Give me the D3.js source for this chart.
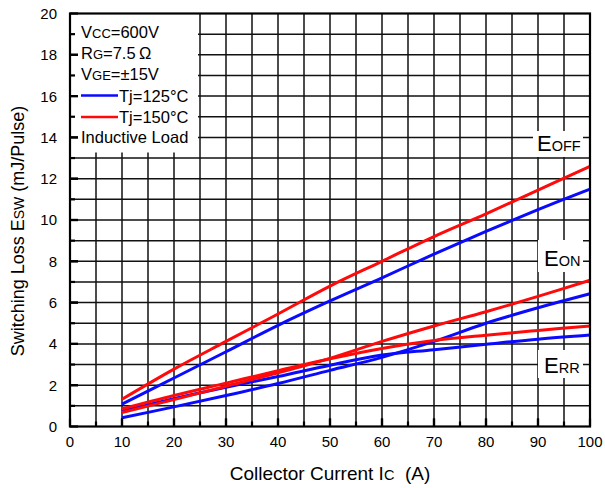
<!DOCTYPE html>
<html>
<head>
<meta charset="utf-8">
<script src="https://cdn.jsdelivr.net/npm/d3@7"></script>
<style>
  body { margin: 0; background: #fff; }
  text { font-family: "Liberation Sans", Arial, sans-serif; fill: #000; }
</style>
</head>
<body>
<div id="container"></div>
<script>
/* CONSTANTS AND GLOBALS */
const width = 605;
const height = 488;
const margin = { top: 13.5, right: 15, bottom: 61.5, left: 70 };

/* DATA */
const current = [10, 20, 30, 40, 50, 60, 70, 80, 90, 100];
const eoff125 = [1.08, 2.35, 3.62, 4.9, 6.08, 7.2, 8.35, 9.45, 10.5, 11.5];
const eoff150 = [1.32, 2.78, 4.12, 5.45, 6.8, 8.0, 9.2, 10.3, 11.45, 12.6];
const eon125 = [0.42, 0.95, 1.5, 2.08, 2.72, 3.35, 4.12, 5.0, 5.75, 6.43];
const eon150 = [0.68, 1.3, 1.95, 2.6, 3.3, 4.12, 4.87, 5.56, 6.3, 7.08];
const err125 = [0.75, 1.35, 1.9, 2.42, 2.97, 3.46, 3.72, 3.98, 4.23, 4.43];
const err150 = [0.85, 1.5, 2.1, 2.7, 3.28, 3.78, 4.16, 4.42, 4.65, 4.87];

const xTickLabels = [0, 10, 20, 30, 40, 50, 60, 70, 80, 90, 100];
const yTickLabels = [0, 2, 4, 6, 8, 10, 12, 14, 16, 18, 20];
const xGrid = [5, 10, 15, 20, 25, 30, 35, 40, 45, 50, 55, 60, 65, 70, 75, 80, 85, 90, 95];
const yGrid = [1, 2, 3, 4, 5, 6, 7, 8, 9, 10, 11, 12, 13, 14, 15, 16, 17, 18, 19];

const blue = "#0a0aff";
const red = "#ff0a0a";

const series = [
  { name: "eoff125", values: eoff125, color: blue },
  { name: "eoff150", values: eoff150, color: red },
  { name: "err125", values: err125, color: blue },
  { name: "eon125", values: eon125, color: blue },
  { name: "err150", values: err150, color: red },
  { name: "eon150", values: eon150, color: red }
];

/* SCALES */
const xScale = d3.scaleLinear()
  .domain([0, 100])
  .range([margin.left, width - margin.right]);

const yScale = d3.scaleLinear()
  .domain([0, 20])
  .range([height - margin.bottom, margin.top]);

/* SVG */
const svg = d3.select("#container")
  .append("svg")
  .attr("width", width)
  .attr("height", height)
  .style("background-color", "#fff");

// grid
svg.append("g")
  .selectAll("line")
  .data(xGrid)
  .join("line")
  .attr("x1", d => xScale(d)).attr("x2", d => xScale(d))
  .attr("y1", yScale(0)).attr("y2", yScale(20))
  .attr("stroke", "#111").attr("stroke-width", 1.5);

svg.append("g")
  .selectAll("line")
  .data(yGrid)
  .join("line")
  .attr("x1", xScale(0)).attr("x2", xScale(100))
  .attr("y1", d => yScale(d)).attr("y2", d => yScale(d))
  .attr("stroke", "#111").attr("stroke-width", 1.5);

// curves
const line = d3.line()
  .x((d, i) => xScale(current[i]))
  .y(d => yScale(d))
  .curve(d3.curveCatmullRom.alpha(0.5));

svg.append("g")
  .selectAll("path")
  .data(series)
  .join("path")
  .attr("d", d => line(d.values))
  .attr("fill", "none")
  .attr("stroke", d => d.color)
  .attr("stroke-width", 3);

// white boxes behind curve labels
const labelBoxes = [
  { x: 533, y: 131, w: 50, h: 26 },
  { x: 538, y: 240, w: 45, h: 32 },
  { x: 538, y: 350, w: 45, h: 28 }
];
svg.append("g")
  .selectAll("rect")
  .data(labelBoxes)
  .join("rect")
  .attr("x", d => d.x).attr("y", d => d.y)
  .attr("width", d => d.w).attr("height", d => d.h)
  .attr("fill", "#fff");

// legend box
svg.append("rect")
  .attr("x", xScale(0)).attr("y", yScale(20))
  .attr("width", 128).attr("height", 139)
  .attr("fill", "#fff");

// frame
svg.append("rect")
  .attr("x", xScale(0)).attr("y", yScale(20))
  .attr("width", xScale(100) - xScale(0))
  .attr("height", yScale(0) - yScale(20))
  .attr("fill", "none")
  .attr("stroke", "#000")
  .attr("stroke-width", 2.2);

// inward ticks
const ticks = svg.append("g").attr("stroke", "#000").attr("stroke-width", 2.2);
ticks.selectAll("line.yt")
  .data(yGrid.concat(yTickLabels))
  .join("line")
  .attr("class", "yt")
  .attr("x1", xScale(0))
  .attr("x2", d => xScale(0) + (d % 2 === 0 ? 8 : 5))
  .attr("y1", d => yScale(d)).attr("y2", d => yScale(d));
ticks.selectAll("line.xt")
  .data(xGrid.concat(xTickLabels))
  .join("line")
  .attr("class", "xt")
  .attr("y1", yScale(0))
  .attr("y2", d => yScale(0) - (d % 10 === 0 ? 8 : 5))
  .attr("x1", d => xScale(d)).attr("x2", d => xScale(d));

// tick labels
svg.append("g")
  .selectAll("text")
  .data(yTickLabels)
  .join("text")
  .attr("x", 57)
  .attr("y", d => yScale(d))
  .attr("dy", "0.36em")
  .attr("text-anchor", "end")
  .style("font-size", "15px")
  .text(d => d);

svg.append("g")
  .selectAll("text")
  .data(xTickLabels)
  .join("text")
  .attr("x", d => xScale(d))
  .attr("y", 447)
  .attr("text-anchor", "middle")
  .style("font-size", "15px")
  .text(d => d);

// helper for text with small-letter parts
function richText(x, y, parts, anchor, big, small) {
  const t = svg.append("text")
    .attr("x", x).attr("y", y)
    .attr("text-anchor", anchor || "start")
    .style("font-size", big + "px");
  parts.forEach(p => {
    t.append("tspan")
      .style("font-size", (p[1] ? small : big) + "px")
      .text(p[0]);
  });
  return t;
}

// axis titles
richText(330, 480, [["Collector Current I", 0], ["C", 1], ["  (A)", 0]], "middle", 19, 14.5)
  .attr("xml:space", "preserve");

richText(0, 0, [["Switching Loss E", 0], ["SW", 1], [" (mJ/Pulse)", 0]], "middle", 18, 14)
  .attr("transform", `translate(24, ${yScale(10) + 11}) rotate(-90)`);

// legend
const lx = 81;
const fBig = 16.5, fSmall = 13;
richText(lx, 37.5, [["V", 0], ["CC", 1], ["=600V", 0]], "start", fBig, fSmall);
richText(lx, 58.5, [["R", 0], ["G", 1], ["=7.5\u2009\u03A9", 0]], "start", fBig, fSmall);
richText(lx, 79.5, [["V", 0], ["GE", 1], ["=\u00B115V", 0]], "start", fBig, fSmall);
svg.append("line").attr("x1", lx).attr("x2", 118).attr("y1", 95.5).attr("y2", 95.5)
  .attr("stroke", blue).attr("stroke-width", 2.5);
richText(119, 101.5, [["Tj=125\u00B0C", 0]], "start", fBig, fSmall);
svg.append("line").attr("x1", lx).attr("x2", 118).attr("y1", 117).attr("y2", 117)
  .attr("stroke", red).attr("stroke-width", 2.5);
richText(119, 122.5, [["Tj=150\u00B0C", 0]], "start", fBig, fSmall);
richText(lx, 143, [["Inductive Load", 0]], "start", fBig, fSmall);

// curve labels
richText(537, 151, [["E", 0], ["OFF", 1]], "start", 22, 14.5);
richText(544, 266, [["E", 0], ["ON", 1]], "start", 22, 14.5);
richText(544, 373, [["E", 0], ["RR", 1]], "start", 22, 14.5);
</script>
</body>
</html>
